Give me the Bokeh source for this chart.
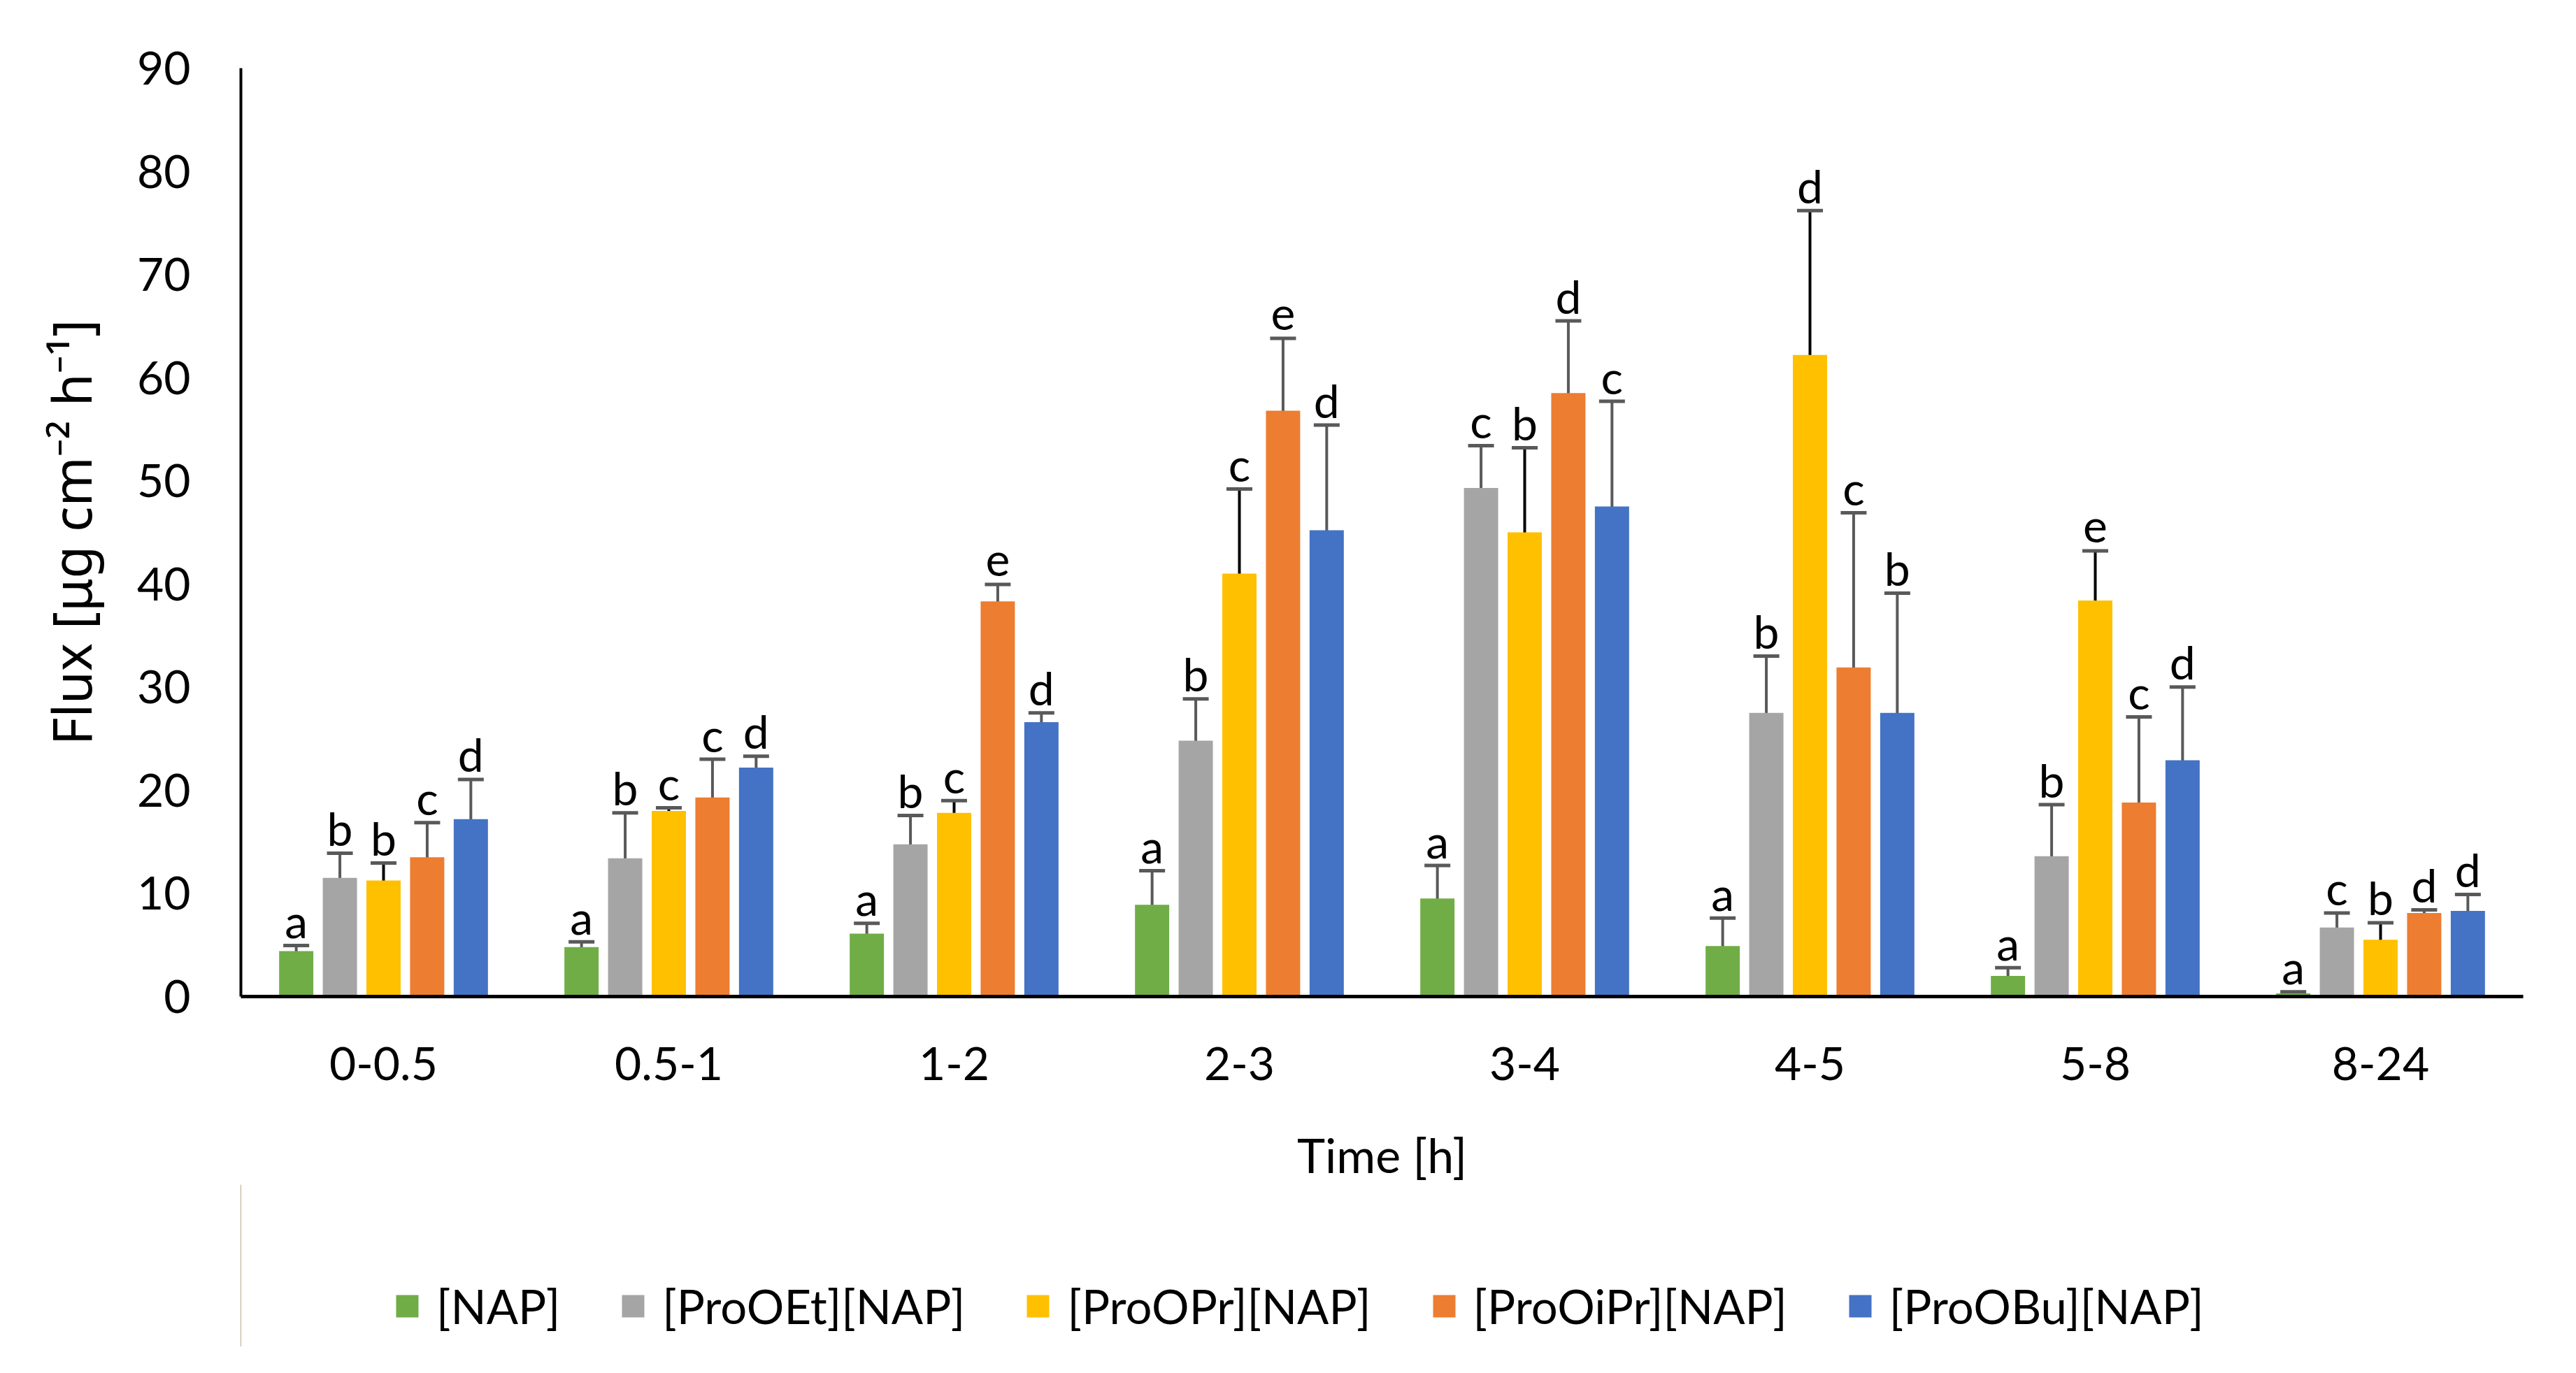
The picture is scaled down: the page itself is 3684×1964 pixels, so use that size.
from bokeh.plotting import figure
from bokeh.layouts import column
from bokeh.models import (ColumnDataSource, FactorRange, Range1d, Whisker, TeeHead,
                          Legend, LegendItem, SingleIntervalTicker)
from bokeh.transform import dodge
from bokeh.core.properties import value
from bokeh.embed import file_html
from bokeh.resources import INLINE

# time intervals
periods = ["0-0.5", "0.5-1", "1-2", "2-3", "3-4", "4-5", "5-8", "8-24"]

series = ["[NAP]", "[ProOEt][NAP]", "[ProOPr][NAP]", "[ProOiPr][NAP]", "[ProOBu][NAP]"]
colors = ["#70AD47", "#A5A5A5", "#FFC000", "#ED7D31", "#4472C4"]

# flux means and error bars, ug cm-2 h-1
nap = [4.4, 4.8, 6.1, 8.9, 9.5, 4.9, 2.0, 0.3]
nap_err = [0.55, 0.5, 1.0, 3.3, 3.2, 2.7, 0.8, 0.15]
prooet = [11.5, 13.4, 14.75, 24.8, 49.3, 27.5, 13.6, 6.7]
prooet_err = [2.4, 4.4, 2.8, 4.05, 4.1, 5.5, 5.0, 1.4]
proopr = [11.25, 18.0, 17.8, 41.0, 45.0, 62.2, 38.4, 5.5]
proopr_err = [1.7, 0.3, 1.2, 8.2, 8.2, 14.0, 4.8, 1.65]
prooipr = [13.5, 19.3, 38.3, 56.8, 58.5, 31.9, 18.8, 8.1]
prooipr_err = [3.35, 3.7, 1.65, 7.0, 7.0, 15.0, 8.3, 0.3]
proobu = [17.2, 22.2, 26.6, 45.2, 47.5, 27.5, 22.9, 8.3]
proobu_err = [3.85, 1.1, 0.9, 10.2, 10.2, 11.6, 7.1, 1.6]

# significance letters
nap_lab = ["a", "a", "a", "a", "a", "a", "a", "a"]
prooet_lab = ["b", "b", "b", "b", "c", "b", "b", "c"]
proopr_lab = ["b", "c", "c", "c", "b", "d", "e", "b"]
prooipr_lab = ["c", "c", "e", "e", "d", "c", "c", "d"]
proobu_lab = ["d", "d", "d", "d", "c", "b", "d", "d"]

vals = [nap, prooet, proopr, prooipr, proobu]
errs = [nap_err, prooet_err, proopr_err, prooipr_err, proobu_err]
labs = [nap_lab, prooet_lab, proopr_lab, prooipr_lab, proobu_lab]
stem_colors = ["#595959", "#595959", "#000000", "#595959", "#595959"]

FONT = "Lato"

p = figure(x_range=FactorRange(*periods), y_range=Range1d(0, 90),
           frame_width=3264, frame_height=1328,
           output_backend="svg", toolbar_location=None,
           min_border_left=344, min_border_right=60, min_border_top=97,
           min_border_bottom=0)

step = 0.153
for i, name in enumerate(series):
    off = (i - 2) * step
    v = vals[i]
    e = errs[i]
    src = ColumnDataSource(dict(
        x=periods, top=v,
        upper=[a + b for a, b in zip(v, e)],
        lower=[a - b for a, b in zip(v, e)],
        lab=labs[i],
    ))
    p.vbar(x=dodge("x", off, range=p.x_range), top="top", width=0.12,
           source=src, fill_color=colors[i], line_color=None)

    w = Whisker(base=dodge("x", off, range=p.x_range), upper="upper", lower="lower",
                source=src, dimension="height", line_color=stem_colors[i], line_width=4,
                upper_head=TeeHead(size=37, line_color="#595959", line_width=5),
                lower_head=TeeHead(size=37, line_color="#595959", line_width=5))
    p.add_layout(w)

    # letters sit above the upper whisker (negative offset = up)
    p.text(x=dodge("x", off, range=p.x_range), y="upper", text="lab", source=src,
           text_font=value(FONT), text_font_size="66px", text_align="center",
           text_baseline="alphabetic", y_offset=-36, text_color="black")

p.xgrid.grid_line_color = None
p.ygrid.grid_line_color = None
p.outline_line_color = None

p.xaxis.axis_line_width = 5
p.xaxis.axis_line_color = "black"
p.xaxis.major_tick_line_color = None
p.xaxis.minor_tick_line_color = None
p.xaxis.major_label_text_font = FONT
p.xaxis.major_label_text_font_size = "66px"
p.xaxis.major_label_text_color = "black"
p.xaxis.major_label_standoff = 66
p.xaxis.axis_label = "Time [h]"
p.xaxis.axis_label_text_font = FONT
p.xaxis.axis_label_text_font_size = "68px"
p.xaxis.axis_label_text_font_style = "normal"
p.xaxis.axis_label_text_color = "black"
p.xaxis.axis_label_standoff = 63

p.yaxis.ticker = SingleIntervalTicker(interval=10)
p.yaxis.axis_line_width = 4
p.yaxis.axis_line_color = "black"
p.yaxis.major_tick_line_color = None
p.yaxis.minor_tick_line_color = None
p.yaxis.major_label_text_font = FONT
p.yaxis.major_label_text_font_size = "66px"
p.yaxis.major_label_text_color = "black"
p.yaxis.major_label_standoff = 66
p.yaxis.axis_label = "Flux [μg cm⁻² h⁻¹]"
p.yaxis.axis_label_text_font = "Noto Sans"
p.yaxis.axis_label_text_font_size = "76px"
p.yaxis.axis_label_text_font_style = "normal"
p.yaxis.axis_label_text_color = "black"
p.yaxis.axis_label_standoff = 40

# legend strip under the chart (its frame lines up with the chart's frame)
leg = figure(x_range=Range1d(0, 1), y_range=Range1d(0, 1), width=3668, height=232,
             output_backend="svg", toolbar_location=None,
             x_axis_type=None, y_axis_type=None, min_border=0)
leg.outline_line_color = None
leg.background_fill_color = "white"
leg.border_fill_color = "white"
leg.xgrid.grid_line_color = None
leg.ygrid.grid_line_color = None
items = []
for i, name in enumerate(series):
    r = leg.vbar(x=[-5], top=[1], width=0.1, fill_color=colors[i], line_color=None)
    items.append(LegendItem(label=name, renderers=[r]))

legend = Legend(items=items, orientation="horizontal", location=(218, 18),
                label_text_font=FONT, label_text_font_size="67px",
                label_text_color="black", glyph_width=40, glyph_height=40,
                label_standoff=22, spacing=84, border_line_color=None,
                background_fill_alpha=0, margin=0, padding=0)
leg.add_layout(legend, "center")

open("out.html", "w").write(file_html(column(p, leg), INLINE))
